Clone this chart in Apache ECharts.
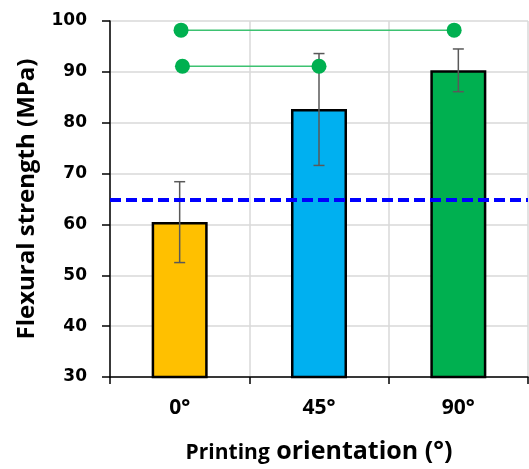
<!DOCTYPE html>
<html>
<head>
<meta charset="utf-8">
<script src="https://cdn.jsdelivr.net/npm/echarts@6/dist/echarts.min.js"></script>
<style>html,body{margin:0;padding:0;background:#fff;}#c{width:529px;height:469px;}</style>
</head>
<body>
<div id="c"></div>
<script>
const categories = ['0°', '45°', '90°'];
const strength = [60.5, 82.7, 90.3];
const errLow = [52.5, 71.6, 86.1];
const errHigh = [68.4, 93.6, 94.5];
const barColors = ['#FFC000', '#00B0F0', '#00B050'];
const referenceLine = 64.9;
const sigTop = [[0.01, 98.2], [1.97, 98.2]];
const sigLow = [[0.02, 91.1], [1.0, 91.1]];
const yTicks = {min: 30, max: 100, interval: 10};

const chart = echarts.init(document.getElementById('c'), null, {renderer: 'canvas'});

const sigStyle = (data) => ({
  type: 'line', xAxisIndex: 1, data: data,
  symbol: 'circle', symbolSize: 15,
  itemStyle: {color: '#00B050'},
  lineStyle: {color: '#3DC271', width: 1.5},
  z: 5, silent: true
});

chart.setOption({
  animation: false,
  grid: {left: 110, right: 1, top: 21, bottom: 90, containLabel: false},
  xAxis: [{
    type: 'category', data: categories, boundaryGap: true,
    axisLine: {onZero: false, lineStyle: {color: '#000', width: 1.5}},
    axisTick: {show: true, length: 7, interval: 0, lineStyle: {color: '#000', width: 1.5}},
    axisLabel: {fontFamily: 'Open Sans', fontWeight: 'bold', fontSize: 21, color: '#000', margin: 21},
    splitLine: {show: true, interval: 0, lineStyle: {color: '#D9D9D9', width: 1.5}},
    name: '{a|Printing}{b| orientation (°)}',
    nameLocation: 'middle', nameGap: 62,
    nameTextStyle: {
      rich: {
        a: {fontFamily: 'Open Sans', fontWeight: 'bold', fontSize: 21, color: '#000', verticalAlign: 'bottom'},
        b: {fontFamily: 'Open Sans', fontWeight: 'bold', fontSize: 25, color: '#000', verticalAlign: 'bottom'}
      }
    }
  }, {
    type: 'value', min: -0.5, max: 2.5, show: false
  }],
  yAxis: {
    type: 'value', min: yTicks.min, max: yTicks.max, interval: yTicks.interval,
    axisLine: {show: true, onZero: false, lineStyle: {color: '#000', width: 1.5}},
    axisTick: {show: true, length: 8, lineStyle: {color: '#000', width: 1.5}},
    axisLabel: {fontFamily: 'DejaVu Sans', fontWeight: 'bold', fontSize: 17, color: '#000', margin: 23},
    splitLine: {show: true, lineStyle: {color: '#D9D9D9', width: 1.5}},
    name: 'Flexural strength (MPa)', nameLocation: 'middle', nameGap: 71,
    nameTextStyle: {fontFamily: 'Open Sans', fontWeight: 'bold', fontSize: 24, color: '#000'}
  },
  series: [{
    type: 'bar', barWidth: 56,
    data: strength.map((v, i) => ({value: v, itemStyle: {color: barColors[i]}})),
    itemStyle: {borderColor: '#000', borderWidth: 2.5},
    markLine: {
      silent: true, symbol: 'none', label: {show: false},
      lineStyle: {color: '#0000FF', width: 4, type: [11, 5]},
      data: [{yAxis: referenceLine}]
    },
    z: 2
  }, {
    type: 'custom',
    data: categories.map((c, i) => [i, errLow[i], errHigh[i]]),
    renderItem: function (params, api) {
      const x = api.value(0);
      const lo = api.coord([x, api.value(1)]);
      const hi = api.coord([x, api.value(2)]);
      const hw = 5.5;
      const style = {stroke: '#595959', lineWidth: 1.5};
      return {type: 'group', children: [
        {type: 'line', shape: {x1: lo[0], y1: lo[1], x2: hi[0], y2: hi[1]}, style: style},
        {type: 'line', shape: {x1: lo[0] - hw, y1: lo[1], x2: lo[0] + hw, y2: lo[1]}, style: style},
        {type: 'line', shape: {x1: hi[0] - hw, y1: hi[1], x2: hi[0] + hw, y2: hi[1]}, style: style}
      ]};
    },
    z: 4, silent: true
  }, sigStyle(sigTop), sigStyle(sigLow)]
});
</script>
</body>
</html>
